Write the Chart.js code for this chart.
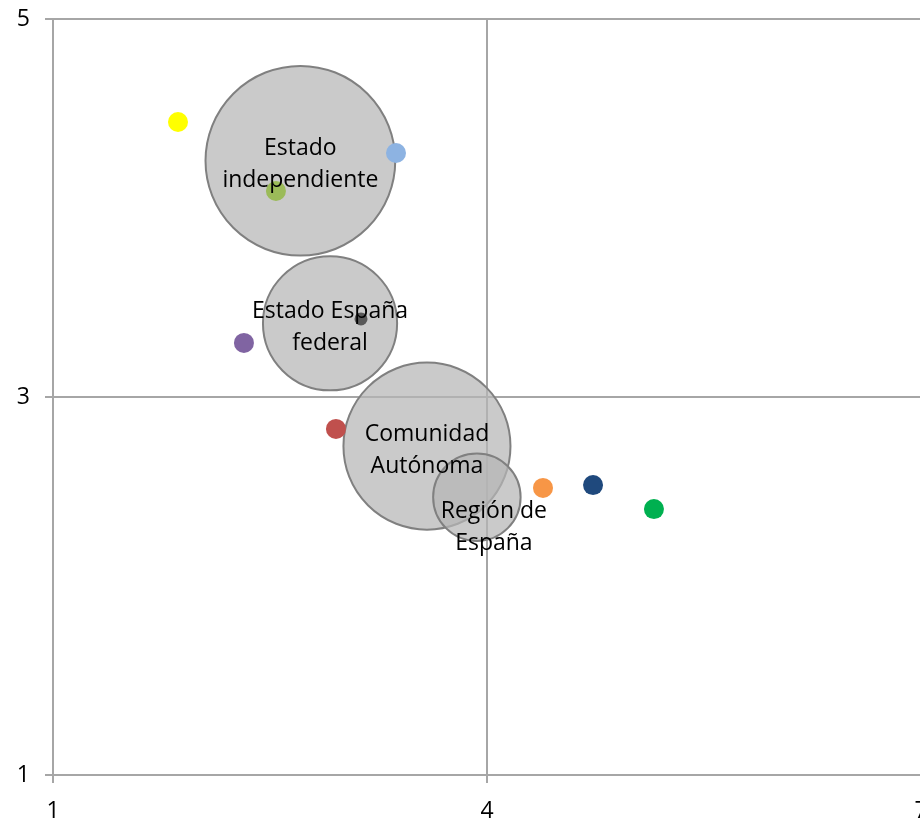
<!DOCTYPE html>
<html>
<head>
<meta charset="utf-8">
<script src="https://cdn.jsdelivr.net/npm/chart.js@4"></script>
<style>
    html, body { margin: 0; padding: 0; background: #fff; overflow: hidden; }
    #wrap { width: 940px; height: 822px; }
</style>
</head>
<body>
<div id="wrap"><canvas id="chart"></canvas></div>
<script>
// Options (big grey bubbles)
const groupLabels = [['Estado', 'independiente'], ['Estado España', 'federal'], ['Comunidad', 'Autónoma'], ['Región de', 'España']];
const groupX = [2.71, 2.915, 3.585, 3.93];
const groupY = [4.25, 3.39, 2.74, 2.47];
const groupSize = [40, 20, 31, 8.5];

// Small coloured points
const dotX = [1.864, 3.371, 2.541, 3.129, 2.32, 2.956, 4.387, 4.733, 5.154];
const dotY = [4.455, 4.291, 4.09, 3.413, 3.286, 2.831, 2.519, 2.534, 2.407];
const dotColors = ['#ffff00', '#8db3e2', '#9bbb59', '#595959', '#8064a2', '#c0504d', '#f79646', '#1f497d', '#00b050'];

const xTicks = [1, 4, 7];
const yTicks = [1, 3, 5];

const gridColor = '#a6a6a6';
const font = { family: 'Open Sans', size: 23 };

// label nudges (Región label was moved off-centre)
const labelShift = [[0, 4], [0, 4], [0, 4], [17, 30]];

const bubbleLabels = {
    id: 'bubbleLabels',
    afterDatasetsDraw(chart) {
        const ctx = chart.ctx;
        const meta = chart.getDatasetMeta(1);
        ctx.save();
        ctx.font = `${font.size}px ${font.family}`;
        ctx.fillStyle = '#000';
        ctx.textAlign = 'center';
        ctx.textBaseline = 'middle';
        meta.data.forEach((el, i) => {
            const lines = groupLabels[i];
            const lh = 32;
            const x0 = el.x + labelShift[i][0];
            const y0 = el.y + labelShift[i][1] - (lines.length - 1) * lh / 2;
            lines.forEach((ln, j) => ctx.fillText(ln, x0, y0 + j * lh));
        });
        ctx.restore();
    }
};

new Chart(document.getElementById('chart'), {
    type: 'bubble',
    data: {
        datasets: [
            {
                label: 'puntos',
                data: dotX.map((x, i) => ({ x: x, y: dotY[i], r: i === 3 ? 6.5 : 10 })),
                backgroundColor: dotColors,
                borderWidth: 0
            },
            {
                label: 'opciones',
                data: groupX.map((x, i) => ({ x: x, y: groupY[i], r: 15 * Math.sqrt(groupSize[i]) })),
                backgroundColor: 'rgba(182, 182, 182, 0.72)',
                borderColor: '#808080',
                borderWidth: 2
            }
        ]
    },
    options: {
        responsive: true,
        maintainAspectRatio: false,
        animation: false,
        layout: { autoPadding: false, padding: { top: 19, right: 19, left: 0, bottom: 0 } },
        plugins: { legend: { display: false }, tooltip: { enabled: false } },
        scales: {
            x: {
                type: 'linear',
                min: xTicks[0],
                max: xTicks[xTicks.length - 1],
                afterBuildTicks: (s) => { s.ticks = xTicks.map(v => ({ value: v })); },
                afterFit: (s) => { s.height = 47; s.paddingLeft = 0; s.paddingRight = 0; },
                ticks: { color: '#000', font: font, padding: 15 },
                grid: { color: gridColor, lineWidth: 2, tickLength: 8 },
                border: { color: gridColor, width: 2 }
            },
            y: {
                type: 'linear',
                min: yTicks[0],
                max: yTicks[yTicks.length - 1],
                afterBuildTicks: (s) => { s.ticks = yTicks.map(v => ({ value: v })); },
                afterFit: (s) => { s.width = 53; s.paddingTop = 0; s.paddingBottom = 0; },
                ticks: { color: '#000', font: font, padding: 15 },
                grid: { color: gridColor, lineWidth: 2, tickLength: 8 },
                border: { color: gridColor, width: 2 }
            }
        }
    },
    plugins: [bubbleLabels]
});
</script>
</body>
</html>
